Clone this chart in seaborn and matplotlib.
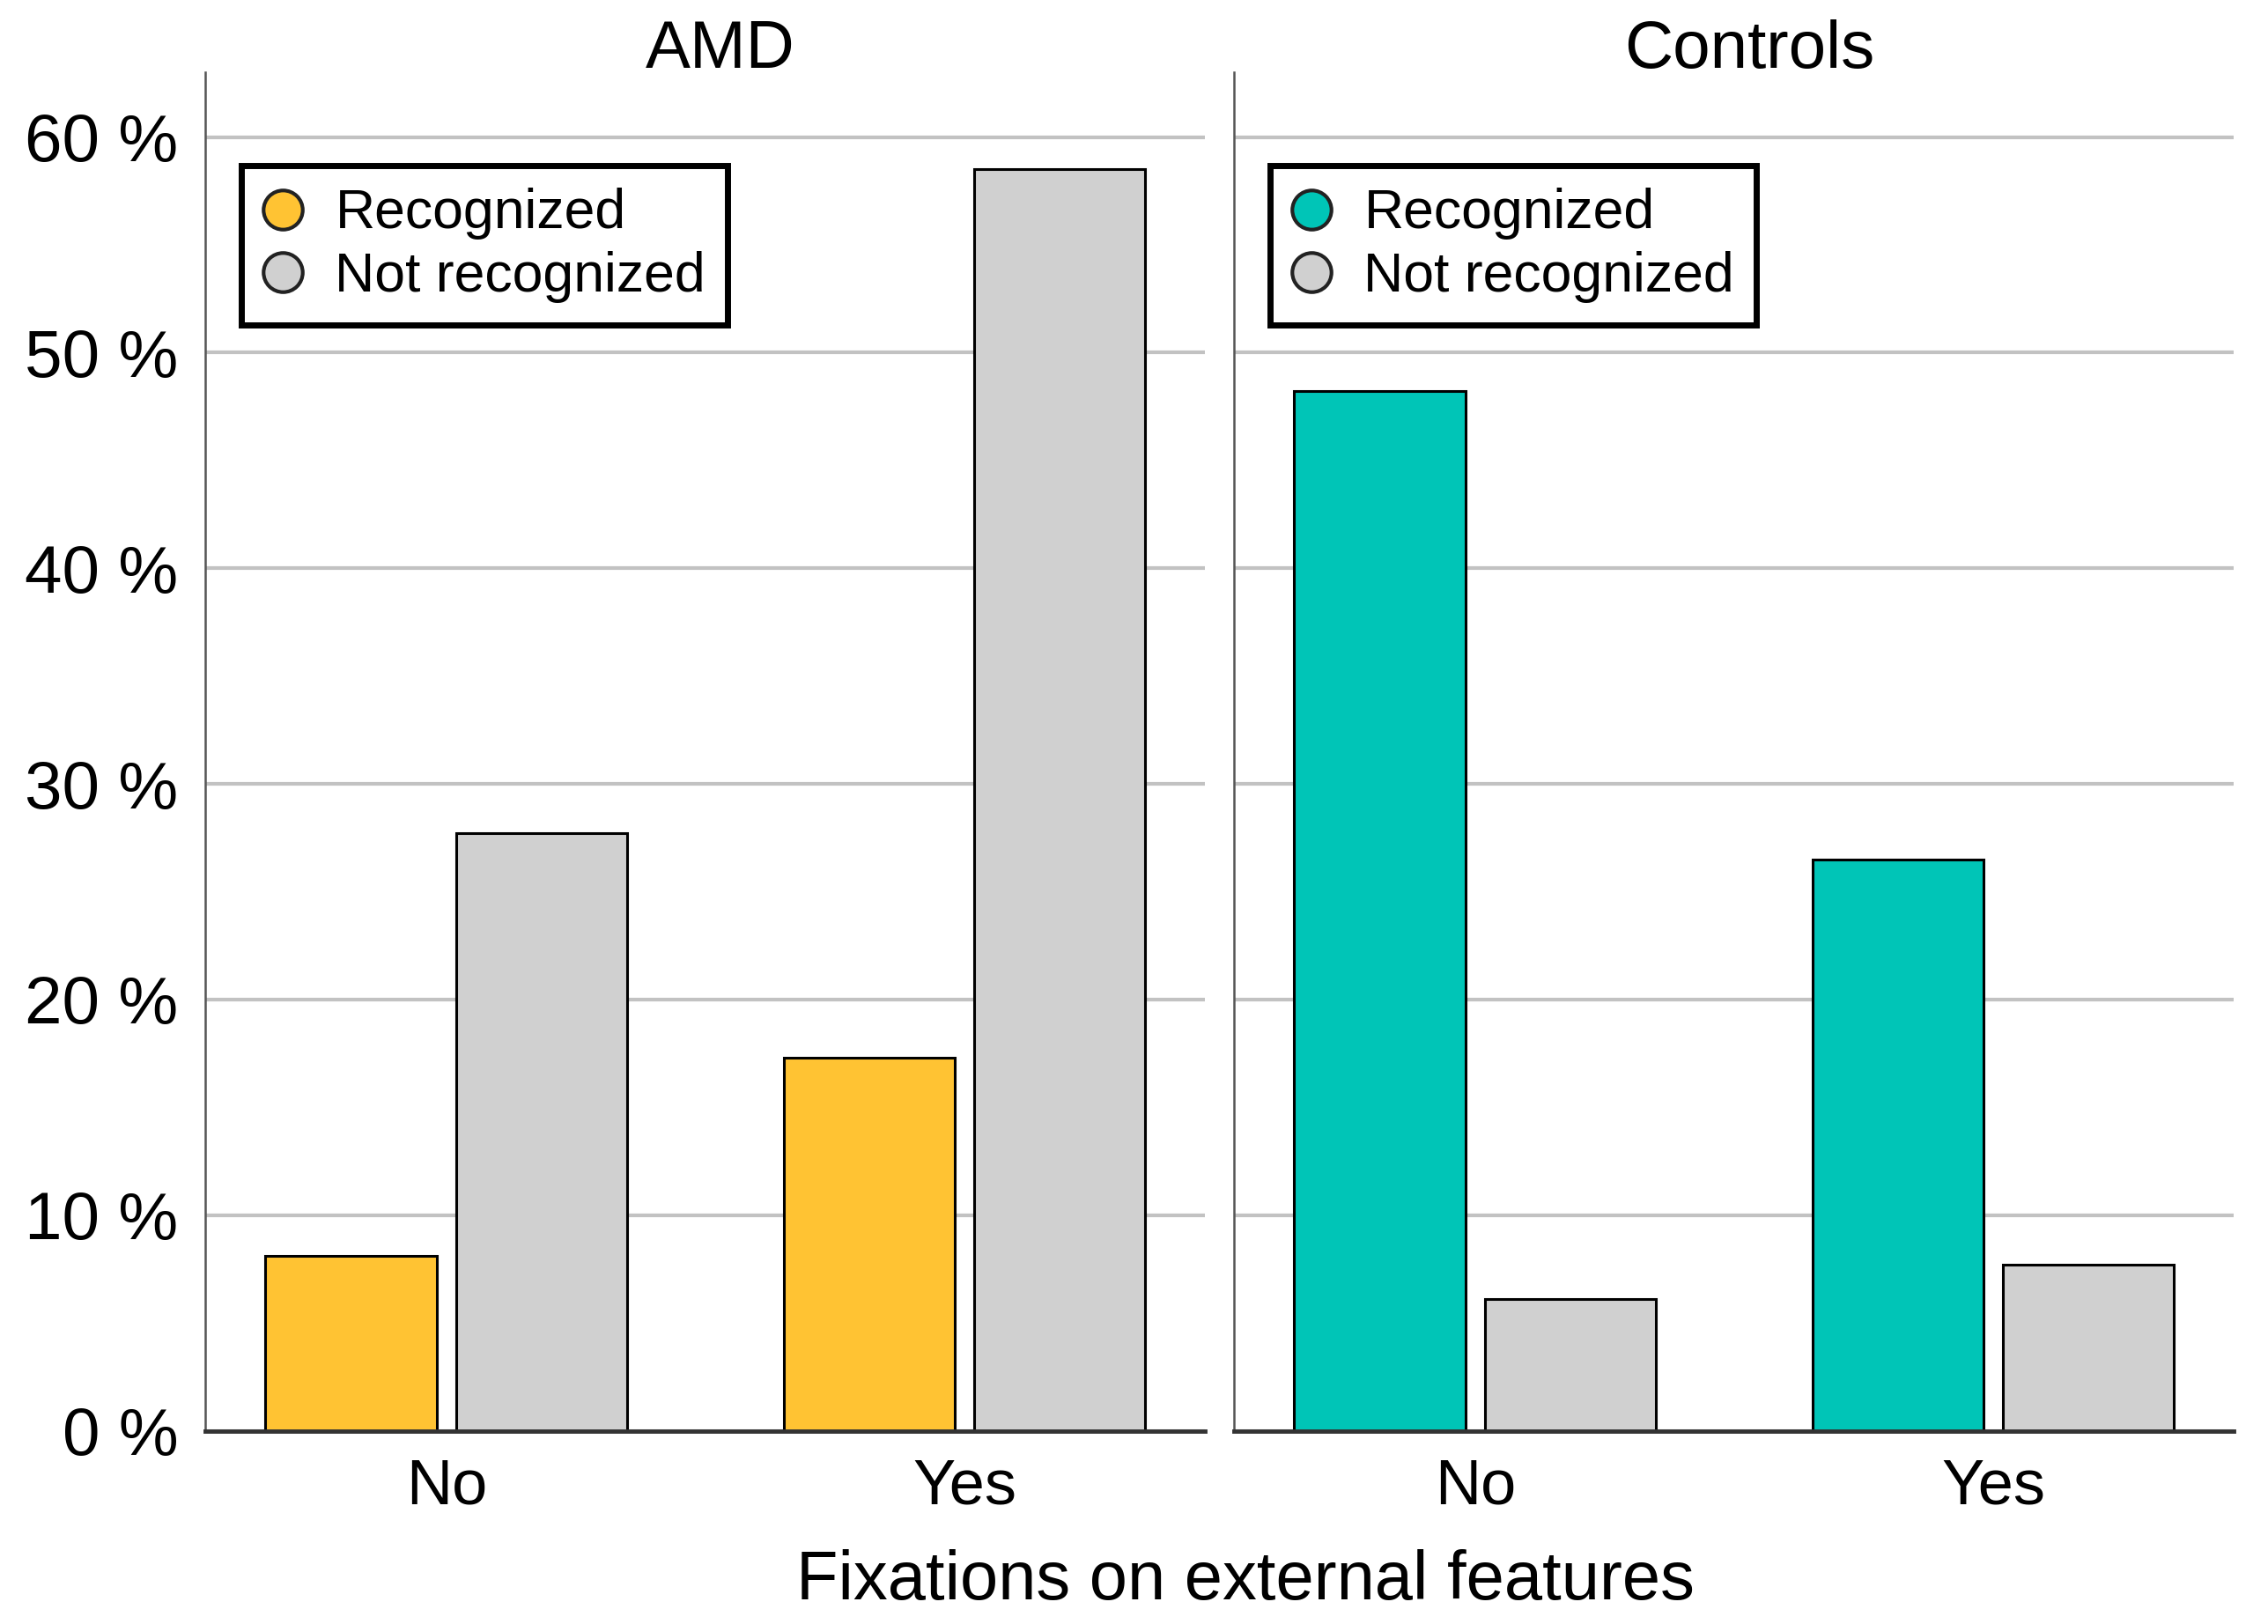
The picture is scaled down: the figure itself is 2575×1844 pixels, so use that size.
import pandas as pd
import seaborn as sns
import matplotlib.pyplot as plt
from matplotlib.lines import Line2D

# values (percent)
groups = ["AMD", "Controls"]
fixations = ["No", "Yes"]
statuses = ["Recognized", "Not recognized"]
amd_values = [8.1, 27.7, 17.3, 58.5]        # No-rec, No-not, Yes-rec, Yes-not
control_values = [48.2, 6.1, 26.5, 7.7]
y_ticks = [0, 10, 20, 30, 40, 50, 60]

group_colors = {"AMD": "#FFC333", "Controls": "#00C5B7"}
not_color = "#D0D0D0"

rows = []
for group, vals in zip(groups, [amd_values, control_values]):
    i = 0
    for fix in fixations:
        for st in statuses:
            rows.append({"group": group, "fixation": fix, "status": st, "percent": vals[i]})
            i += 1
df = pd.DataFrame(rows)

sns.set_theme(style="white")
plt.rcParams["font.family"] = ["Liberation Sans", "DejaVu Sans"]
plt.rcParams["text.color"] = "black"
plt.rcParams["xtick.color"] = "black"
plt.rcParams["ytick.color"] = "black"

fig, axes = plt.subplots(1, 2, figsize=(25.75, 18.44), dpi=100, sharey=True)
fig.subplots_adjust(left=0.0906, right=0.985, bottom=0.119, top=0.9555, wspace=0.029)

for ax, group in zip(axes, groups):
    sub = df[df["group"] == group]
    pal = {"Recognized": group_colors[group], "Not recognized": not_color}
    sns.barplot(data=sub, x="fixation", y="percent", hue="status",
                order=fixations, hue_order=statuses, palette=pal,
                width=0.735, gap=0.1, edgecolor="black", linewidth=2.2,
                saturation=1, legend=False, ax=ax)
    ax.set_xlim(-0.465, 1.465)
    ax.set_ylim(0, 63)
    ax.set_yticks(y_ticks)
    ax.set_yticklabels([f"{t} %" for t in y_ticks])
    ax.yaxis.grid(True, color="#C2C2C2", linewidth=3)
    ax.set_axisbelow(True)
    ax.set_xlabel("")
    ax.set_ylabel("")
    ax.set_title(group, fontsize=55, pad=4, x=0.515)
    ax.tick_params(axis="y", length=0, labelsize=55, pad=22)
    ax.tick_params(axis="x", length=0, labelsize=52, pad=22)
    for side in ["top", "right"]:
        ax.spines[side].set_visible(False)
    ax.spines["left"].set_color("#555555")
    ax.spines["left"].set_linewidth(1.8)
    ax.spines["bottom"].set_color("#333333")
    ax.spines["bottom"].set_linewidth(3.5)

    handles = [Line2D([0], [0], marker="o", linestyle="none", markersize=32,
                      markerfacecolor=pal[st], markeredgecolor="#222222",
                      markeredgewidth=3) for st in statuses]
    leg = ax.legend(handles, statuses, loc="upper left", bbox_to_anchor=(0.036, 0.931),
                    borderaxespad=0, fontsize=45, frameon=True, fancybox=False,
                    handlelength=0.7, handletextpad=0.6, labelspacing=0.2,
                    borderpad=0.4)
    leg.get_frame().set_edgecolor("black")
    leg.get_frame().set_linewidth(5)
    leg.get_frame().set_alpha(1)

axes[1].tick_params(axis="y", labelleft=False)

fig.text(0.549, 0.0152, "Fixations on external features", fontsize=56,
         ha="center", va="baseline")

fig.savefig("out.png", dpi=100, facecolor="white")
